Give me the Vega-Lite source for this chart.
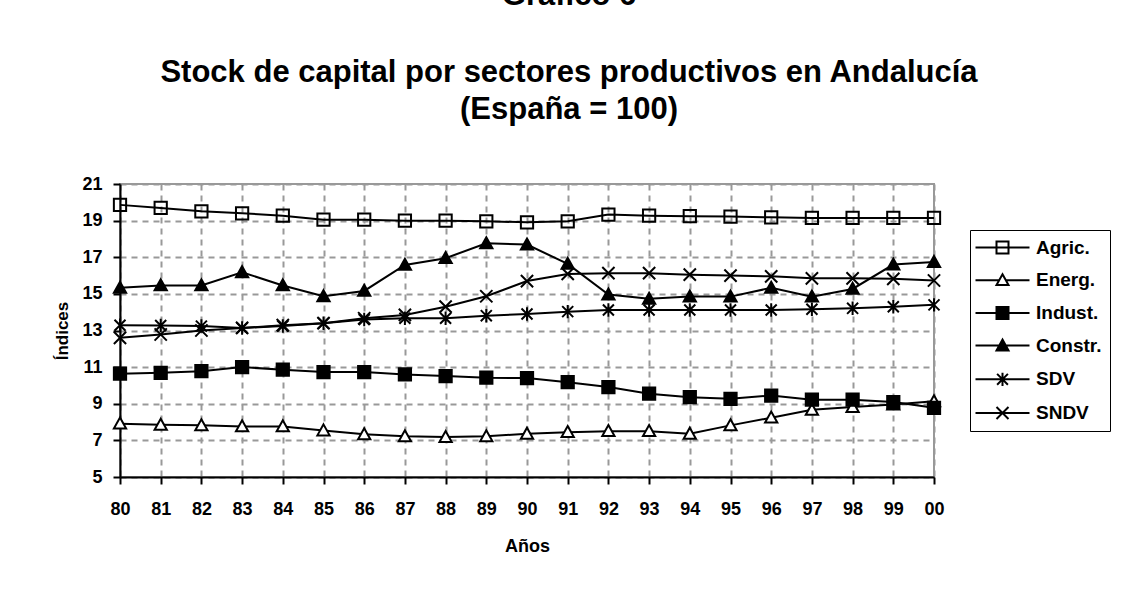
{
  "$schema": "https://vega.github.io/schema/vega-lite/v6.json",
  "width": 814,
  "height": 293,
  "autosize": {"type": "none"},
  "padding": {"left": 120, "top": 184, "right": 196, "bottom": 114},
  "background": "white",
  "title": {
    "text": "Gráfico 6",
    "subtitle": ["Stock de capital por sectores productivos en Andalucía", "(España = 100)"],
    "font": "Liberation Sans",
    "fontSize": 31,
    "fontWeight": "bold",
    "color": "black",
    "subtitleFont": "Liberation Sans",
    "subtitleFontSize": 31,
    "subtitleFontWeight": "bold",
    "subtitleColor": "black",
    "subtitleLineHeight": 37,
    "subtitlePadding": 46,
    "anchor": "middle",
    "frame": "group",
    "offset": 49,
    "dx": 42
  },
  "config": {
    "view": {"stroke": "#999999", "strokeWidth": 2},
    "font": "Liberation Sans",
    "axis": {
      "domainColor": "black",
      "domainWidth": 2,
      "tickColor": "black",
      "tickWidth": 2,
      "tickSize": 7,
      "gridColor": "#999999",
      "gridWidth": 2,
      "gridDash": [6, 5],
      "labelFont": "Liberation Sans",
      "labelFontSize": 18,
      "labelFontWeight": "bold",
      "labelColor": "black",
      "titleFont": "Liberation Sans",
      "titleFontWeight": "bold",
      "titleColor": "black"
    }
  },
  "data": {
    "values": [
      {"year": "80", "series": "Agric.", "value": 19.86},
      {"year": "81", "series": "Agric.", "value": 19.69},
      {"year": "82", "series": "Agric.", "value": 19.51},
      {"year": "83", "series": "Agric.", "value": 19.40},
      {"year": "84", "series": "Agric.", "value": 19.27},
      {"year": "85", "series": "Agric.", "value": 19.05},
      {"year": "86", "series": "Agric.", "value": 19.05},
      {"year": "87", "series": "Agric.", "value": 19.00},
      {"year": "88", "series": "Agric.", "value": 19.00},
      {"year": "89", "series": "Agric.", "value": 18.96},
      {"year": "90", "series": "Agric.", "value": 18.91},
      {"year": "91", "series": "Agric.", "value": 18.96},
      {"year": "92", "series": "Agric.", "value": 19.33},
      {"year": "93", "series": "Agric.", "value": 19.27},
      {"year": "94", "series": "Agric.", "value": 19.24},
      {"year": "95", "series": "Agric.", "value": 19.22},
      {"year": "96", "series": "Agric.", "value": 19.18},
      {"year": "97", "series": "Agric.", "value": 19.15},
      {"year": "98", "series": "Agric.", "value": 19.15},
      {"year": "99", "series": "Agric.", "value": 19.15},
      {"year": "00", "series": "Agric.", "value": 19.15},
      {"year": "80", "series": "Energ.", "value": 7.91},
      {"year": "81", "series": "Energ.", "value": 7.85},
      {"year": "82", "series": "Energ.", "value": 7.82},
      {"year": "83", "series": "Energ.", "value": 7.76},
      {"year": "84", "series": "Energ.", "value": 7.76},
      {"year": "85", "series": "Energ.", "value": 7.54},
      {"year": "86", "series": "Energ.", "value": 7.33},
      {"year": "87", "series": "Energ.", "value": 7.22},
      {"year": "88", "series": "Energ.", "value": 7.18},
      {"year": "89", "series": "Energ.", "value": 7.22},
      {"year": "90", "series": "Energ.", "value": 7.36},
      {"year": "91", "series": "Energ.", "value": 7.45},
      {"year": "92", "series": "Energ.", "value": 7.50},
      {"year": "93", "series": "Energ.", "value": 7.50},
      {"year": "94", "series": "Energ.", "value": 7.36},
      {"year": "95", "series": "Energ.", "value": 7.82},
      {"year": "96", "series": "Energ.", "value": 8.24},
      {"year": "97", "series": "Energ.", "value": 8.67},
      {"year": "98", "series": "Energ.", "value": 8.82},
      {"year": "99", "series": "Energ.", "value": 8.96},
      {"year": "00", "series": "Energ.", "value": 9.13},
      {"year": "80", "series": "Indust.", "value": 10.64},
      {"year": "81", "series": "Indust.", "value": 10.69},
      {"year": "82", "series": "Indust.", "value": 10.78},
      {"year": "83", "series": "Indust.", "value": 11.00},
      {"year": "84", "series": "Indust.", "value": 10.86},
      {"year": "85", "series": "Indust.", "value": 10.73},
      {"year": "86", "series": "Indust.", "value": 10.73},
      {"year": "87", "series": "Indust.", "value": 10.60},
      {"year": "88", "series": "Indust.", "value": 10.51},
      {"year": "89", "series": "Indust.", "value": 10.42},
      {"year": "90", "series": "Indust.", "value": 10.40},
      {"year": "91", "series": "Indust.", "value": 10.18},
      {"year": "92", "series": "Indust.", "value": 9.91},
      {"year": "93", "series": "Indust.", "value": 9.55},
      {"year": "94", "series": "Indust.", "value": 9.36},
      {"year": "95", "series": "Indust.", "value": 9.27},
      {"year": "96", "series": "Indust.", "value": 9.45},
      {"year": "97", "series": "Indust.", "value": 9.22},
      {"year": "98", "series": "Indust.", "value": 9.22},
      {"year": "99", "series": "Indust.", "value": 9.09},
      {"year": "00", "series": "Indust.", "value": 8.78},
      {"year": "80", "series": "Constr.", "value": 15.33},
      {"year": "81", "series": "Constr.", "value": 15.46},
      {"year": "82", "series": "Constr.", "value": 15.46},
      {"year": "83", "series": "Constr.", "value": 16.18},
      {"year": "84", "series": "Constr.", "value": 15.46},
      {"year": "85", "series": "Constr.", "value": 14.87},
      {"year": "86", "series": "Constr.", "value": 15.16},
      {"year": "87", "series": "Constr.", "value": 16.58},
      {"year": "88", "series": "Constr.", "value": 16.95},
      {"year": "89", "series": "Constr.", "value": 17.76},
      {"year": "90", "series": "Constr.", "value": 17.69},
      {"year": "91", "series": "Constr.", "value": 16.64},
      {"year": "92", "series": "Constr.", "value": 14.96},
      {"year": "93", "series": "Constr.", "value": 14.73},
      {"year": "94", "series": "Constr.", "value": 14.85},
      {"year": "95", "series": "Constr.", "value": 14.85},
      {"year": "96", "series": "Constr.", "value": 15.33},
      {"year": "97", "series": "Constr.", "value": 14.85},
      {"year": "98", "series": "Constr.", "value": 15.27},
      {"year": "99", "series": "Constr.", "value": 16.60},
      {"year": "00", "series": "Constr.", "value": 16.74},
      {"year": "80", "series": "SDV", "value": 13.29},
      {"year": "81", "series": "SDV", "value": 13.27},
      {"year": "82", "series": "SDV", "value": 13.24},
      {"year": "83", "series": "SDV", "value": 13.14},
      {"year": "84", "series": "SDV", "value": 13.24},
      {"year": "85", "series": "SDV", "value": 13.40},
      {"year": "86", "series": "SDV", "value": 13.60},
      {"year": "87", "series": "SDV", "value": 13.67},
      {"year": "88", "series": "SDV", "value": 13.67},
      {"year": "89", "series": "SDV", "value": 13.81},
      {"year": "90", "series": "SDV", "value": 13.90},
      {"year": "91", "series": "SDV", "value": 14.03},
      {"year": "92", "series": "SDV", "value": 14.12},
      {"year": "93", "series": "SDV", "value": 14.12},
      {"year": "94", "series": "SDV", "value": 14.12},
      {"year": "95", "series": "SDV", "value": 14.12},
      {"year": "96", "series": "SDV", "value": 14.12},
      {"year": "97", "series": "SDV", "value": 14.16},
      {"year": "98", "series": "SDV", "value": 14.21},
      {"year": "99", "series": "SDV", "value": 14.30},
      {"year": "00", "series": "SDV", "value": 14.40},
      {"year": "80", "series": "SNDV", "value": 12.60},
      {"year": "81", "series": "SNDV", "value": 12.78},
      {"year": "82", "series": "SNDV", "value": 13.00},
      {"year": "83", "series": "SNDV", "value": 13.14},
      {"year": "84", "series": "SNDV", "value": 13.29},
      {"year": "85", "series": "SNDV", "value": 13.40},
      {"year": "86", "series": "SNDV", "value": 13.67},
      {"year": "87", "series": "SNDV", "value": 13.85},
      {"year": "88", "series": "SNDV", "value": 14.30},
      {"year": "89", "series": "SNDV", "value": 14.87},
      {"year": "90", "series": "SNDV", "value": 15.70},
      {"year": "91", "series": "SNDV", "value": 16.09},
      {"year": "92", "series": "SNDV", "value": 16.13},
      {"year": "93", "series": "SNDV", "value": 16.13},
      {"year": "94", "series": "SNDV", "value": 16.05},
      {"year": "95", "series": "SNDV", "value": 16.00},
      {"year": "96", "series": "SNDV", "value": 15.96},
      {"year": "97", "series": "SNDV", "value": 15.85},
      {"year": "98", "series": "SNDV", "value": 15.85},
      {"year": "99", "series": "SNDV", "value": 15.82},
      {"year": "00", "series": "SNDV", "value": 15.73}
    ]
  },
  "encoding": {
    "x": {
      "field": "year",
      "type": "ordinal",
      "scale": {
        "type": "point",
        "padding": 0,
        "domain": ["80","81","82","83","84","85","86","87","88","89","90","91","92","93","94","95","96","97","98","99","00"]
      },
      "axis": {
        "title": "Años",
        "titleFontSize": 18,
        "titlePadding": 19,
        "labelAngle": 0,
        "labelPadding": 16,
        "grid": true
      }
    },
    "y": {
      "field": "value",
      "type": "quantitative",
      "scale": {"domain": [5, 21], "nice": false, "zero": false},
      "axis": {
        "title": "Índices",
        "titleFontSize": 17,
        "titlePadding": 10,
        "values": [5, 7, 9, 11, 13, 15, 17, 19, 21],
        "labelPadding": 11,
        "grid": true
      }
    }
  },
  "layer": [
    {
      "mark": {"type": "line", "color": "black", "strokeWidth": 2},
      "encoding": {"detail": {"field": "series", "type": "nominal"}}
    },
    {
      "mark": {"type": "point", "filled": true, "stroke": "black", "strokeWidth": 2, "size": 150, "opacity": 1},
      "encoding": {
        "shape": {
          "field": "series",
          "type": "nominal",
          "scale": {
            "domain": ["Agric.", "Energ.", "Indust.", "Constr.", "SDV", "SNDV"],
            "range": [
              "M-1,-1L1,-1L1,1L-1,1Z",
              "M0,-1L1,0.8L-1,0.8Z",
              "M-1,-1L1,-1L1,1L-1,1Z",
              "M0,-1L1,0.8L-1,0.8Z",
              "M-0.9,-0.9L0.9,0.9M-0.9,0.9L0.9,-0.9M0,-1.1L0,1.1",
              "M-1,-1L1,1M-1,1L1,-1"
            ]
          },
          "legend": null
        },
        "fill": {
          "field": "series",
          "type": "nominal",
          "scale": {
            "domain": ["Agric.", "Energ.", "Indust.", "Constr.", "SDV", "SNDV"],
            "range": ["transparent", "white", "black", "black", "transparent", "transparent"]
          },
          "legend": null
        }
      }
    },
    {
      "transform": [{"filter": "false"}],
      "mark": {"type": "point", "filled": true, "strokeWidth": 2, "size": 144, "opacity": 1},
      "encoding": {
        "shape": {
          "field": "series",
          "type": "nominal",
          "scale": {
            "domain": ["Agric.", "Energ.", "Indust.", "Constr.", "SDV", "SNDV"],
            "range": [
              "M-4.5,0L4.5,0M-1,-1L1,-1L1,1L-1,1Z",
              "M-4.5,0L-0.55,0M0.55,0L4.5,0M0,-1L1,0.8L-1,0.8Z",
              "M-4.5,0L4.5,0M-1,-1L1,-1L1,1L-1,1Z",
              "M-4.5,0L4.5,0M0,-1L1,0.8L-1,0.8Z",
              "M-4.5,0L4.5,0M-0.9,-0.9L0.9,0.9M-0.9,0.9L0.9,-0.9M0,-1.1L0,1.1",
              "M-4.5,0L4.5,0M-1,-1L1,1M-1,1L1,-1"
            ]
          },
          "legend": {
            "title": null,
            "orient": "none",
            "legendX": 850,
            "legendY": 46,
            "padding": 8,
            "strokeColor": "black",
            "fillColor": "white",
            "labelFont": "Liberation Sans",
            "labelFontSize": 19,
            "labelFontWeight": "bold",
            "labelColor": "black",
            "symbolSize": 144,
            "symbolStrokeWidth": 2,
            "symbolOffset": 15,
            "labelOffset": 24,
            "rowPadding": 11.7
          }
        },
        "fill": {
          "field": "series",
          "type": "nominal",
          "scale": {
            "domain": ["Agric.", "Energ.", "Indust.", "Constr.", "SDV", "SNDV"],
            "range": ["transparent", "white", "black", "black", "transparent", "transparent"]
          }
        },
        "stroke": {
          "field": "series",
          "type": "nominal",
          "scale": {
            "domain": ["Agric.", "Energ.", "Indust.", "Constr.", "SDV", "SNDV"],
            "range": ["black", "black", "black", "black", "black", "black"]
          }
        }
      }
    }
  ],
  "resolve": {
    "scale": {"shape": "independent", "fill": "independent", "stroke": "independent"},
    "legend": {"shape": "independent", "fill": "independent", "stroke": "independent"}
  }
}
